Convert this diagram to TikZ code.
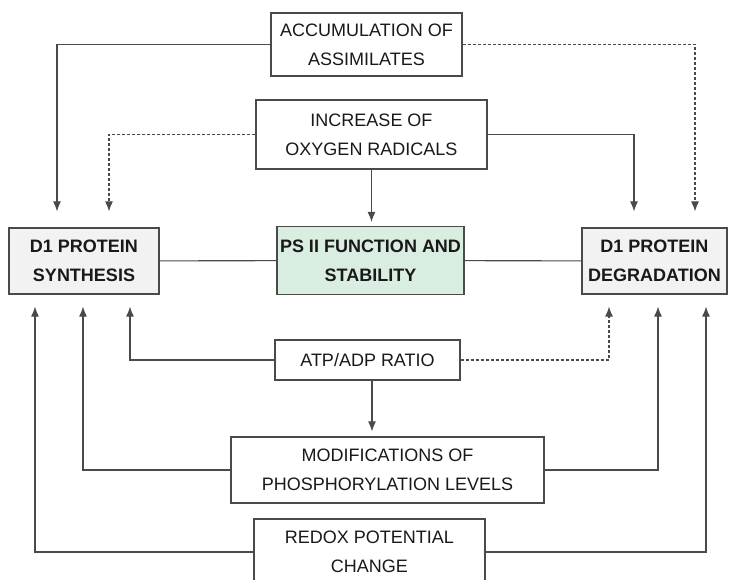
\documentclass[tikz,border=0pt]{standalone}
\usepackage{fontspec}
\setmainfont{Liberation Sans}
\usetikzlibrary{arrows.meta}

\definecolor{linegrey}{HTML}{4A4A4A}
\definecolor{boxgrey}{HTML}{F2F2F2}
\definecolor{psgreen}{HTML}{D9EDE0}

\begin{document}
\begin{tikzpicture}[
    x=1pt, y=-1pt,
    >={Latex[length=10pt,width=8pt]},
    block/.style={
        draw=linegrey,
        line width=1.2pt,
        fill=white,
        align=center,
        inner sep=0pt,
        text=black!90,
        font=\fontsize{18}{29}\selectfont
    },
    keyblock/.style={
        block,
        fill=boxgrey,
        font=\fontsize{18}{29}\selectfont\bfseries
    },
    link/.style={
        line width=1.1pt,
        draw=linegrey
    },
    arrow/.style={
        link,
        ->
    },
    dasharrow/.style={
        arrow,
        dash pattern=on 3pt off 2pt
    }
]

    \clip (0,0) rectangle (729,580);
    \fill[white] (0,0) rectangle (729,580);

    % boxes
    \node[block, minimum width=191pt, minimum height=63pt] (acc) at (366.5,44.5)
        {ACCUMULATION OF\\ASSIMILATES};
    \node[block, minimum width=231pt, minimum height=69pt] (inc) at (371.5,134.5)
        {INCREASE OF\\OXYGEN RADICALS};
    \node[keyblock, minimum width=150pt, minimum height=66pt] (syn) at (84,261)
        {D1 PROTEIN\\SYNTHESIS};
    \node[keyblock, fill=psgreen, minimum width=187pt, minimum height=68pt] (ps) at (370.5,260.5)
        {PS II FUNCTION AND\\STABILITY};
    \node[keyblock, minimum width=145pt, minimum height=66pt] (deg) at (654.5,261)
        {D1 PROTEIN\\DEGRADATION};
    \node[block, minimum width=185pt, minimum height=40pt] (atp) at (367.5,360)
        {ATP/ADP RATIO};
    \node[block, minimum width=313pt, minimum height=66pt] (mod) at (387.5,470)
        {MODIFICATIONS OF\\PHOSPHORYLATION LEVELS};
    \node[block, minimum width=231pt, minimum height=66pt] (red) at (369.5,552)
        {REDOX POTENTIAL\\CHANGE};

    % links to the centre
    \draw[link] (syn) -- (ps);
    \draw[link] (ps) -- (deg);

    % influences from above
    \draw[arrow, shorten >=16pt] (acc.west) -| ([xshift=-27pt]syn.north);
    \draw[dasharrow, shorten >=16pt] (acc.east) -| ([xshift=40.5pt]deg.north);
    \draw[dasharrow, shorten >=16pt] (inc.west) -| ([xshift=25pt]syn.north);
    \draw[arrow, shorten >=16pt] (inc.east) -| ([xshift=-20.5pt]deg.north);
    \draw[arrow, shorten >=4pt] (inc.south) -- (inc.south |- ps.north);

    % influences from below
    \foreach \src/\dx in {atp/46, mod/-1, red/-49}{
        \draw[arrow, shorten >=12pt] (\src.west) -| ([xshift=\dx pt]syn.south);
    }
    \draw[dasharrow, shorten >=12pt] (atp.east) -| ([xshift=-45.5pt]deg.south);
    \foreach \src/\dx in {mod/3.5, red/51.5}{
        \draw[arrow, shorten >=12pt] (\src.east) -| ([xshift=\dx pt]deg.south);
    }
    \draw[arrow, shorten >=5pt] ([xshift=4.5pt]atp.south) -- ([xshift=4.5pt]atp.south |- mod.north);

\end{tikzpicture}
\end{document}
